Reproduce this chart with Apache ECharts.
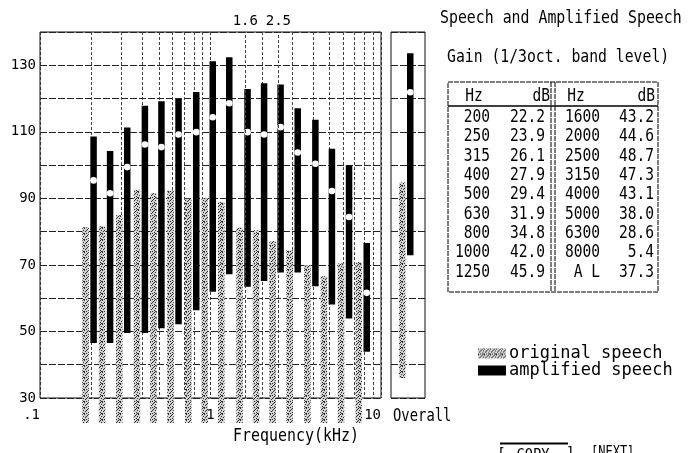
<!DOCTYPE html>
<html><head><meta charset="utf-8">
<script src="https://cdn.jsdelivr.net/npm/echarts@6/dist/echarts.min.js"></script>
<style>html,body{margin:0;padding:0;background:#fff}#c{width:688px;height:453px}</style>
</head><body><div id="c"></div>
<script>
// ---- data ----
const bandsKHz   = [0.2,0.25,0.315,0.4,0.5,0.63,0.8,1.0,1.25,1.6,2.0,2.5,3.15,4.0,5.0,6.3,8.0];
const origTop    = [81.3,81.6,84.9,92.6,91.6,92.4,89.9,90.0,88.9,81.2,80.4,77.2,74.4,69.9,66.6,70.4,70.9];
const origBottom = [22.5,22.5,22.5,22.5,22.5,22.5,22.5,22.5,22.5,22.5,22.5,22.5,22.5,22.5,22.5,22.5,22.5];
const ampHigh    = [108.6,104.2,111.3,117.8,119.2,119.9,122.0,131.2,132.4,122.9,124.6,124.2,117.1,113.6,104.9,99.9,76.6];
const ampMean    = [95.4,91.5,99.4,106.2,105.4,109.2,109.9,114.4,118.6,109.9,109.2,111.4,103.8,100.4,92.2,84.4,61.6];
const ampLow     = [46.5,46.5,49.5,49.5,51.0,52.2,56.4,61.9,67.2,63.4,65.2,67.7,67.7,63.6,58.1,53.9,43.9];
const overallCat = ['Overall'];
const overallOrig = [[36.0, 94.8]];
const overallAmp  = [[72.9, 133.6, 121.9]];
const topMarks   = [1.6, 2.5];
const gainLeftHz  = ['200','250','315','400','500','630','800','1000','1250'];
const gainLeftDb  = ['22.2','23.9','26.1','27.9','29.4','31.9','34.8','42.0','45.9'];
const gainRightHz = ['1600','2000','2500','3150','4000','5000','6300','8000','A L'];
const gainRightDb = ['43.2','44.6','48.7','47.3','43.1','38.0','28.6','5.4','37.3'];

// ---- style ----
const FONT = "'DejaVu Sans Mono', monospace";
function makeStipple(){
  const c=document.createElement('canvas'); c.width=6; c.height=6;
  const g=c.getContext('2d'); g.fillStyle='#d2d2d2'; g.fillRect(0,0,6,6);
  g.fillStyle='#2e2e2e';
  [[0,0],[3,1],[5,2],[1,3],[4,4],[2,5],[0,5],[5,5],[2,2],[4,0]].forEach(p=>g.fillRect(p[0],p[1],1,1));
  return c;
}
const stipple = {image: makeStipple(), repeat:'repeat'};
const GRAY_DX=-9, GRAY_W=6.5, BLACK_DX=-1, BLACK_W=6.5;

function grayRender(params, api){
  const lo = api.coord([api.value(0), api.value(1)]);
  const hi = api.coord([api.value(0), api.value(2)]);
  return {type:'rect', shape:{x:lo[0]+GRAY_DX, y:hi[1], width:GRAY_W, height:lo[1]-hi[1]}, style:{fill:stipple}};
}
function blackRender(params, api){
  const lo = api.coord([api.value(0), api.value(1)]);
  const hi = api.coord([api.value(0), api.value(2)]);
  const m  = api.coord([api.value(0), api.value(3)]);
  return {type:'group', children:[
    {type:'rect', shape:{x:lo[0]+BLACK_DX, y:hi[1], width:BLACK_W, height:lo[1]-hi[1]}, style:{fill:'#000'}},
    {type:'circle', shape:{cx:lo[0]+BLACK_DX+BLACK_W/2, cy:m[1], r:3.3}, style:{fill:'#fff'}}
  ]};
}

function txt(x,y,s,o){
  o=o||{};
  return {type:'text', x:x, y:y, scaleX:(o.sx==null?0.82:o.sx), silent:true, z:10,
    style:{text:s, x:0, y:0, font:(o.size||18)+'px '+FONT, fill:'#000',
      textAlign:o.align||'left', textVerticalAlign:o.va||'middle'}};
}
function line(x1,y1,x2,y2,o){
  o=o||{};
  return {type:'line', silent:true, z:10, shape:{x1,y1,x2,y2},
    style:{stroke:'#000', lineWidth:o.w||1, lineDash:o.dash||null}};
}

const graphics = [];
graphics.push(txt(440,18.5,'Speech and Amplified Speech',{sx:0.826}));
graphics.push(txt(447,57,'Gain (1/3oct. band level)',{sx:0.82}));
// table frame
graphics.push({type:'rect', silent:true, z:10, shape:{x:448,y:82,width:210,height:210},
  style:{fill:null, stroke:'#000', lineWidth:1, lineDash:[5,1]}});
graphics.push(line(551,82,551,292,{dash:[5,1]}));
graphics.push(line(555,82,555,292,{dash:[5,1]}));
graphics.push(line(448,106,658,106,{w:1.5}));
graphics.push(txt(474,96,'Hz',{align:'center',sx:0.81}));
graphics.push(txt(550,96,'dB',{align:'right',sx:0.81}));
graphics.push(txt(576,96,'Hz',{align:'center',sx:0.81}));
graphics.push(txt(655,96,'dB',{align:'right',sx:0.81}));
for(let i=0;i<gainLeftHz.length;i++){
  const y=117.5+19.3*i;
  graphics.push(txt(490,y,gainLeftHz[i],{align:'right',sx:0.81}));
  graphics.push(txt(545,y,gainLeftDb[i],{align:'right',sx:0.81}));
  graphics.push(txt(600,y,gainRightHz[i],{align:'right',sx:0.81}));
  graphics.push(txt(654,y,gainRightDb[i],{align:'right',sx:0.81}));
}
graphics.push(txt(233,436.5,'Frequency(kHz)',{sx:0.83}));
graphics.push(txt(393,416.5,'Overall',{sx:0.77}));
// buttons (cut at bottom edge)
graphics.push(line(500,443.5,568,443.5,{w:2}));
graphics.push(txt(497,447,'[',{va:'top',size:16,sx:0.9}));
graphics.push(txt(533,448,'COPY',{va:'top',size:16,align:'center',sx:0.85}));
graphics.push(txt(566,446,']',{va:'top',size:16,sx:0.9}));
graphics.push(txt(591,446,'[NEXT]',{va:'top',size:15,sx:0.8}));

const splitStyle = {color:'#222', type:[7,2], width:1};

const option = {
  backgroundColor:'#fff',
  animation:false,
  textStyle:{fontFamily:FONT, color:'#000'},
  grid:[
    {left:40, top:32, width:341, height:366, show:true, borderColor:'#111', borderWidth:1},
    {left:391, top:32, width:34, height:366, show:true, borderColor:'#111', borderWidth:1}
  ],
  xAxis:[
    {type:'log', logBase:10, min:0.1, max:10, gridIndex:0,
     axisLine:{show:false}, axisTick:{show:false},
     axisLabel:{show:true, margin:10, fontSize:14, fontFamily:FONT, color:'#000',
       formatter:function(v){return String(+v.toPrecision(3)).replace(/^0\./,'.');},
       alignMinLabel:'right', alignMaxLabel:'right'},
     splitLine:{show:true, lineStyle:{color:'#333', type:[3,2], width:1}},
     minorTick:{show:false, splitNumber:9},
     minorSplitLine:{show:true, lineStyle:{color:'#444', type:[3,2], width:1}}},
    {type:'category', data:overallCat, gridIndex:1, axisLine:{show:false}, axisTick:{show:false},
     axisLabel:{show:false}, splitLine:{show:false}}
  ],
  yAxis:[
    {type:'value', min:30, max:140, interval:10, gridIndex:0,
     axisLine:{show:false}, axisTick:{show:false},
     axisLabel:{margin:4, fontSize:14, fontFamily:FONT, color:'#000',
       formatter:function(v){return (v<=130 && (v-30)%20===0)? String(v) : '';}},
     splitLine:{show:true, lineStyle:splitStyle}},
    {type:'value', min:30, max:140, interval:10, gridIndex:1,
     axisLine:{show:false}, axisTick:{show:false}, axisLabel:{show:false},
     splitLine:{show:true, lineStyle:splitStyle}}
  ],
  legend:{
    data:['original speech','amplified speech'], orient:'vertical', left:473, top:340,
    itemWidth:28, itemHeight:10, itemGap:0, icon:'rect', selectedMode:false,
    textStyle:{fontFamily:FONT, fontSize:17, color:'#000', lineHeight:15, padding:[0,0,0,-2]}
  },
  series:[
    {type:'custom', name:'original speech', xAxisIndex:0, yAxisIndex:0, clip:false, z:2,
     itemStyle:{color:stipple},
     data:bandsKHz.map((f,i)=>[f, origBottom[i], origTop[i]]),
     encode:{x:0, y:[1,2]}, renderItem:grayRender},
    {type:'custom', name:'amplified speech', xAxisIndex:0, yAxisIndex:0, clip:false, z:3,
     itemStyle:{color:'#000'},
     data:bandsKHz.map((f,i)=>[f, ampLow[i], ampHigh[i], ampMean[i]]),
     encode:{x:0, y:[1,2,3]}, renderItem:blackRender},
    {type:'custom', name:'original speech', xAxisIndex:1, yAxisIndex:1, clip:false, z:2,
     itemStyle:{color:stipple},
     data:overallOrig.map((d,i)=>[i, d[0], d[1]]), encode:{x:0,y:[1,2]}, renderItem:grayRender},
    {type:'custom', name:'amplified speech', xAxisIndex:1, yAxisIndex:1, clip:false, z:3,
     itemStyle:{color:'#000'},
     data:overallAmp.map((d,i)=>[i, d[0], d[1], d[2]]), encode:{x:0,y:[1,2,3]}, renderItem:blackRender},
    {type:'line', xAxisIndex:0, yAxisIndex:0, data:[], silent:true,
     markLine:{silent:true, symbol:['none','none'], animation:false,
       lineStyle:{color:'#444', type:[3,2], width:1},
       label:{show:true, position:'end', distance:4, fontFamily:FONT, fontSize:14, color:'#000',
         formatter:function(p){return String(p.value);}},
       data:topMarks.map(v=>({xAxis:v}))}}
  ],
  graphic:graphics
};
const chart = echarts.init(document.getElementById('c'));
chart.setOption(option);
</script></body></html>
